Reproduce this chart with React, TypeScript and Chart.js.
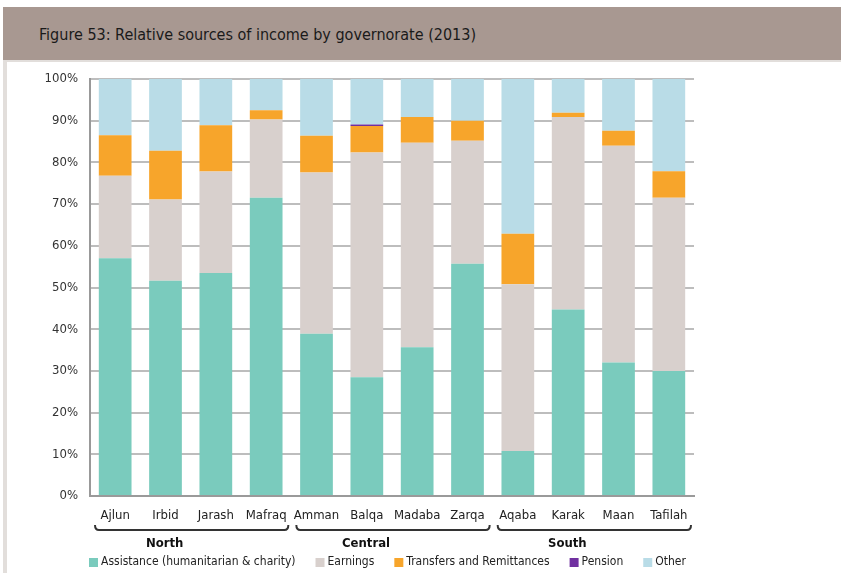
import React, { useEffect, useRef } from 'react';
import { Chart, registerables } from 'chart.js';
Chart.register(...registerables);

const title = 'Figure 53: Relative sources of income by governorate (2013)';
const categories = ['Ajlun', 'Irbid', 'Jarash', 'Mafraq', 'Amman', 'Balqa', 'Madaba', 'Zarqa', 'Aqaba', 'Karak', 'Maan', 'Tafilah'];
const groupNames = ['North', 'Central', 'South'];
const groupStart = [0, 4, 8];
const groupEnd = [3, 7, 11];

const assistance = [57.0, 51.6, 53.5, 71.5, 38.9, 28.5, 35.7, 55.7, 10.8, 44.7, 32.0, 30.0];
const earnings = [19.8, 19.5, 24.3, 18.8, 38.7, 53.9, 49.0, 29.5, 40.0, 46.2, 52.0, 41.5];
const transfers = [9.7, 11.7, 11.1, 2.2, 8.8, 6.3, 6.2, 4.8, 12.1, 1.0, 3.6, 6.4];
const pension = [0, 0, 0, 0, 0, 0.4, 0, 0, 0, 0, 0, 0];
const other = [13.5, 17.2, 11.1, 7.5, 13.6, 10.9, 9.1, 10.0, 37.1, 8.1, 12.4, 22.1];

const seriesNames = ['Assistance (humanitarian & charity)', 'Earnings', 'Transfers and Remittances', 'Pension', 'Other'];
const seriesColors = ['#7ACBBD', '#D8D0CD', '#F7A52B', '#7030A0', '#B9DCE7'];

const FONT = '"Liberation Sans Narrow", "DejaVu Sans Condensed", "Liberation Sans", Arial, sans-serif';

const groupsPlugin = {
  id: 'groupsPlugin',
  afterDraw(chart: any) {
    const ctx = chart.ctx;
    const x = chart.scales.x;
    ctx.save();
    const by = 530;
    groupNames.forEach((name, i) => {
      const left = x.getPixelForValue(groupStart[i] - 0.5) + 5;
      const right = x.getPixelForValue(groupEnd[i] + 0.5) - 3;
      ctx.strokeStyle = '#333';
      ctx.lineWidth = 2;
      ctx.beginPath();
      ctx.moveTo(left, by - 5);
      ctx.quadraticCurveTo(left, by, left + 4, by);
      ctx.lineTo(right - 4, by);
      ctx.quadraticCurveTo(right, by, right, by - 5);
      ctx.stroke();
      ctx.fillStyle = '#111';
      ctx.font = 'bold 13px ' + FONT;
      ctx.textAlign = 'center';
      ctx.textBaseline = 'middle';
      ctx.fillText(name, (left + right) / 2 - 27, 544);
    });
    // legend
    let lx = 89;
    const ly = 562;
    ctx.font = '12px ' + FONT;
    ctx.textAlign = 'left';
    ctx.textBaseline = 'middle';
    seriesNames.forEach((name, i) => {
      ctx.fillStyle = seriesColors[i];
      ctx.fillRect(lx, ly - 4, 9, 9);
      ctx.fillStyle = '#222';
      ctx.fillText(name, lx + 12, ly);
      lx += 12 + ctx.measureText(name).width + 20;
    });
    ctx.restore();
  },
};

export default function App() {
  const ref = useRef<HTMLCanvasElement>(null);
  useEffect(() => {
    if (!ref.current) return;
    const data = [assistance, earnings, transfers, pension, other];
    const chart = new Chart(ref.current, {
      type: 'bar',
      data: {
        labels: categories,
        datasets: seriesNames.map((n, i) => ({
          label: n,
          data: data[i],
          backgroundColor: seriesColors[i],
          borderWidth: 0,
          barPercentage: 0.65,
          categoryPercentage: 1,
        })),
      },
      options: {
        responsive: false,
        animation: false,
        layout: { padding: { top: 79, right: 147, bottom: 47, left: 0 } },
        plugins: { legend: { display: false }, tooltip: { enabled: false }, title: { display: false } },
        scales: {
          x: {
            stacked: true,
            grid: { display: false },
            border: { display: true, color: '#9a9a9a', width: 2 },
            ticks: { font: { family: FONT, size: 13 }, color: '#222', padding: 4, maxRotation: 0, autoSkip: false },
            afterFit: (s: any) => { s.height = 30; },
          },
          y: {
            stacked: true,
            min: 0,
            max: 100,
            ticks: { stepSize: 10, callback: (v: any) => v + '%', font: { family: FONT, size: 13 }, color: '#333', padding: 12 },
            grid: { color: '#bdbdbd', lineWidth: 2, drawTicks: false },
            border: { display: true, color: '#999999', width: 2 },
            afterFit: (s: any) => { s.width = 90; },
          },
        },
      },
      plugins: [groupsPlugin],
    });
    return () => chart.destroy();
  }, []);
  return (
    <div style={{ position: 'absolute', left: 0, top: 0, width: 841, height: 573, background: '#fff', overflow: 'hidden' }}>
      <div style={{ position: 'absolute', left: 3, top: 7, width: 838, height: 53, background: '#A89891' }} />
      <div style={{ position: 'absolute', left: 3, top: 60, width: 838, height: 2, background: '#e2dedb' }} />
      <div style={{ position: 'absolute', left: 3, top: 60, width: 4, height: 513, background: '#e2dedb' }} />
      <div style={{ position: 'absolute', left: 39, top: 23, fontFamily: FONT, fontSize: 16, color: '#1a1a1a', lineHeight: '24px', whiteSpace: 'nowrap' }}>{title}</div>
      <canvas ref={ref} width={841} height={573} style={{ position: 'absolute', left: 0, top: 0, width: 841, height: 573 }} />
    </div>
  );
}
